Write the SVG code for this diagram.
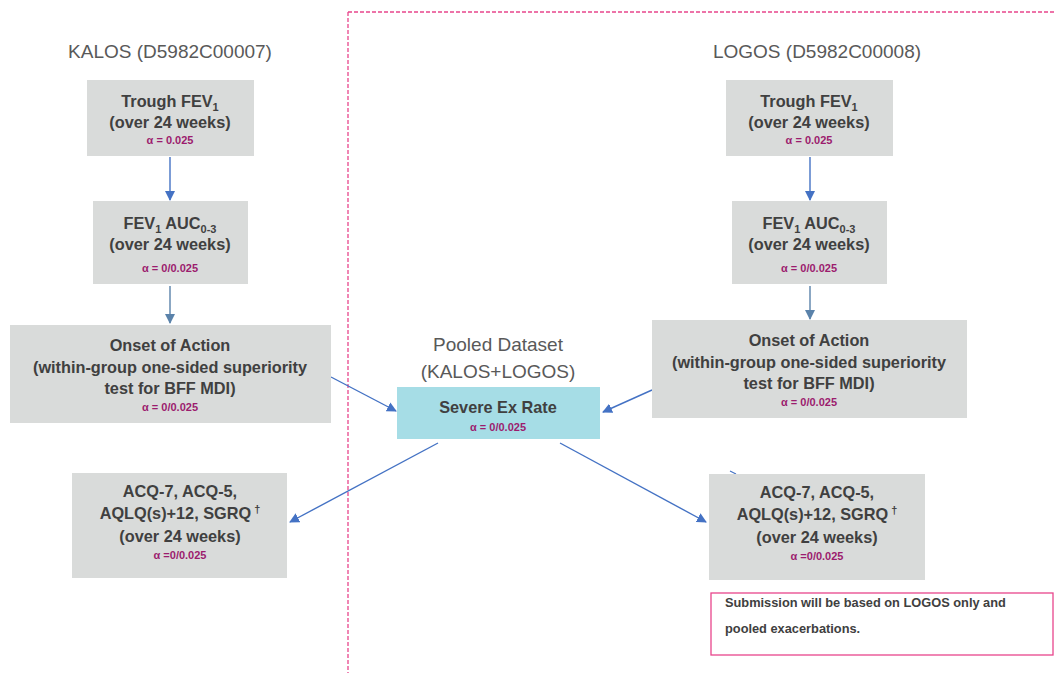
<svg xmlns="http://www.w3.org/2000/svg" width="1056" height="673" viewBox="0 0 1056 673">
  <style>
    .box { fill: #d9dbda; }
    .pool { fill: #a6dde6; }
    .t { font-family: "Liberation Sans", Arial, sans-serif; font-weight: bold; font-size: 16.3px; fill: #404040; text-anchor: middle; }
    .a { font-family: "Liberation Sans", Arial, sans-serif; font-weight: bold; font-size: 11px; fill: #9c1c6e; text-anchor: middle; }
    .h { font-family: "Liberation Sans", Arial, sans-serif; font-size: 19px; fill: #595959; text-anchor: middle; }
    .n { font-family: "Liberation Sans", Arial, sans-serif; font-weight: bold; font-size: 12.8px; fill: #404040; }
    .sub { font-size: 11px; }
    .edge { stroke: #4472c4; stroke-width: 1.4; fill: none; marker-end: url(#ah); }
    .edge2 { stroke: #5a82aa; stroke-width: 1.4; fill: none; marker-end: url(#ah2); }
  </style>
  <defs>
    <marker id="ah" viewBox="0 0 10 10" refX="9" refY="5" markerWidth="10" markerHeight="10" markerUnits="userSpaceOnUse" orient="auto">
      <path d="M0,0 L10,5 L0,10 z" fill="#4472c4"/>
    </marker>
    <marker id="ah2" viewBox="0 0 10 10" refX="9" refY="5" markerWidth="10" markerHeight="10" markerUnits="userSpaceOnUse" orient="auto">
      <path d="M0,0 L10,5 L0,10 z" fill="#5a82aa"/>
    </marker>
  </defs>
  <rect width="1056" height="673" fill="#ffffff"/>

  <!-- dashed frame around the LOGOS side -->
  <g id="frame" stroke="#e8468c" stroke-width="1.3" stroke-dasharray="4,2" fill="none">
    <line x1="348" y1="12" x2="1056" y2="12"/>
    <line x1="348" y1="12" x2="348" y2="673"/>
  </g>

  <!-- study headings -->
  <g id="headings">
    <text class="h" x="170" y="58">KALOS (D5982C00007)</text>
    <text class="h" x="817" y="58">LOGOS (D5982C00008)</text>
    <text class="h" x="498" y="351">Pooled Dataset</text>
    <text class="h" x="498" y="378">(KALOS+LOGOS)</text>
  </g>

  <!-- connectors -->
  <g id="connectors">
    <line class="edge" x1="170" y1="157" x2="170" y2="200"/>
    <line class="edge2" x1="170" y1="286" x2="170" y2="323"/>
    <line class="edge" x1="810" y1="157" x2="810" y2="200"/>
    <line class="edge2" x1="810" y1="286" x2="810" y2="319"/>
    <line class="edge" x1="331" y1="377" x2="396" y2="411"/>
    <line class="edge" x1="652" y1="390" x2="603" y2="412"/>
    <line class="edge" x1="438" y1="443" x2="290" y2="522"/>
    <line class="edge" x1="560" y1="443" x2="706" y2="522"/>
    <line x1="730" y1="471" x2="736" y2="474" stroke="#4472c4" stroke-width="1.2"/>
  </g>

  <!-- KALOS nodes -->
  <g id="kalos-trough">
    <rect class="box" x="87" y="80" width="167" height="76"/>
    <text class="t" x="170" y="107">Trough FEV<tspan class="sub" dy="4">1</tspan></text>
    <text class="t" x="170" y="128">(over 24 weeks)</text>
    <text class="a" x="170" y="144">α = 0.025</text>
  </g>
  <g id="kalos-auc">
    <rect class="box" x="93" y="201" width="155" height="83"/>
    <text class="t" x="170" y="229">FEV<tspan class="sub" dy="4">1</tspan><tspan dy="-4"> AUC</tspan><tspan class="sub" dy="4">0-3</tspan></text>
    <text class="t" x="170" y="250">(over 24 weeks)</text>
    <text class="a" x="170" y="272">α = 0/0.025</text>
  </g>
  <g id="kalos-onset">
    <rect class="box" x="10" y="325" width="321" height="98"/>
    <text class="t" x="170" y="351">Onset of Action</text>
    <text class="t" x="170" y="373">(within-group one-sided superiority</text>
    <text class="t" x="170" y="394">test for BFF MDI)</text>
    <text class="a" x="170" y="411">α = 0/0.025</text>
  </g>
  <g id="kalos-pro">
    <rect class="box" x="72" y="473" width="215" height="105"/>
    <text class="t" x="180" y="497">ACQ-7, ACQ-5,</text>
    <text class="t" x="180" y="519">AQLQ(s)+12, SGRQ<tspan class="sub" dy="-6"> †</tspan></text>
    <text class="t" x="180" y="542">(over 24 weeks)</text>
    <text class="a" x="180" y="559">α =0/0.025</text>
  </g>

  <!-- pooled node -->
  <g id="pooled-exrate">
    <rect class="pool" x="397" y="387" width="203" height="52"/>
    <text class="t" x="498" y="413">Severe Ex Rate</text>
    <text class="a" x="498" y="431">α = 0/0.025</text>
  </g>

  <!-- LOGOS nodes -->
  <g id="logos-trough">
    <rect class="box" x="726" y="80" width="167" height="76"/>
    <text class="t" x="809" y="107">Trough FEV<tspan class="sub" dy="4">1</tspan></text>
    <text class="t" x="809" y="128">(over 24 weeks)</text>
    <text class="a" x="809" y="144">α = 0.025</text>
  </g>
  <g id="logos-auc">
    <rect class="box" x="732" y="201" width="155" height="83"/>
    <text class="t" x="809" y="229">FEV<tspan class="sub" dy="4">1</tspan><tspan dy="-4"> AUC</tspan><tspan class="sub" dy="4">0-3</tspan></text>
    <text class="t" x="809" y="250">(over 24 weeks)</text>
    <text class="a" x="809" y="272">α = 0/0.025</text>
  </g>
  <g id="logos-onset">
    <rect class="box" x="652" y="320" width="315" height="98"/>
    <text class="t" x="809" y="346">Onset of Action</text>
    <text class="t" x="809" y="368">(within-group one-sided superiority</text>
    <text class="t" x="809" y="389">test for BFF MDI)</text>
    <text class="a" x="809" y="406">α = 0/0.025</text>
  </g>
  <g id="logos-pro">
    <rect class="box" x="709" y="474" width="216" height="106"/>
    <text class="t" x="817" y="498">ACQ-7, ACQ-5,</text>
    <text class="t" x="817" y="520">AQLQ(s)+12, SGRQ<tspan class="sub" dy="-6"> †</tspan></text>
    <text class="t" x="817" y="543">(over 24 weeks)</text>
    <text class="a" x="817" y="560">α =0/0.025</text>
  </g>

  <!-- submission note -->
  <g id="note">
    <rect x="711" y="593" width="342" height="62" fill="none" stroke="#e8468c" stroke-width="1.3"/>
    <text class="n" x="725" y="607">Submission will be based on LOGOS only and</text>
    <text class="n" x="725" y="633">pooled exacerbations.</text>
  </g>
</svg>
